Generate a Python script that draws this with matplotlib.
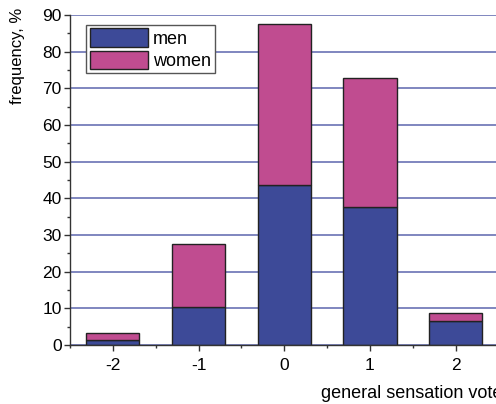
import numpy as np
import matplotlib
import matplotlib.pyplot as plt
from matplotlib.ticker import MultipleLocator

matplotlib.rcParams['font.family'] = ['Liberation Sans', 'DejaVu Sans']

# data
votes = [-2, -1, 0, 1, 2]
men = [1.5, 10.5, 43.6, 37.5, 6.6]
women = [1.8, 17.0, 43.9, 35.4, 2.2]

men_col = '#3d4a98'
women_col = '#c04c90'

fig = plt.figure(figsize=(4.96, 4.04), dpi=100)
ax = fig.add_axes([0.1411, 0.146, 0.864, 0.817])

ax.bar(votes, men, width=0.62, color=men_col, edgecolor='#222222', lw=1, label='men', zorder=3)
ax.bar(votes, women, width=0.62, bottom=men, color=women_col, edgecolor='#222222', lw=1,
       label='women', zorder=3)

ax.set_xlim(-2.5, 2.5)
ax.set_ylim(0, 90)
ax.set_xticks(votes)
ax.set_xticklabels([str(v) for v in votes])
ax.xaxis.set_minor_locator(MultipleLocator(0.5))
ax.yaxis.set_major_locator(MultipleLocator(10))
ax.yaxis.set_minor_locator(MultipleLocator(5))
ax.grid(axis='y', which='major', color='#6a72b4', lw=1.2, zorder=0)
ax.set_axisbelow(True)

for s in ['top', 'right']:
    ax.spines[s].set_visible(False)
for s in ['left', 'bottom']:
    ax.spines[s].set_color('#333333')
    ax.spines[s].set_linewidth(1.0)
    ax.spines[s].set_zorder(4)

ax.tick_params(axis='both', which='major', direction='out', length=4, width=1,
               color='#333333', labelsize=12.5, pad=2)
ax.tick_params(axis='both', which='minor', direction='out', length=2.5, width=1, color='#333333')
ax.tick_params(axis='x', pad=5)

fig.text(18 / 496, 1 - 8 / 404, 'frequency, %', fontsize=12, rotation=90, ha='center', va='top')
fig.text(321 / 496, 1 - 393 / 404, 'general sensation vote', fontsize=13, ha='left', va='center')

leg = ax.legend(loc='upper left', bbox_to_anchor=(0.038, 0.97), fontsize=13, frameon=True,
                fancybox=False, edgecolor='#555555', framealpha=1, borderpad=0.2,
                handlelength=3.2, handleheight=1.2, handletextpad=0.3, labelspacing=0.15,
                borderaxespad=0)
leg.get_frame().set_linewidth(1)

fig.savefig('out.png', dpi=100)
